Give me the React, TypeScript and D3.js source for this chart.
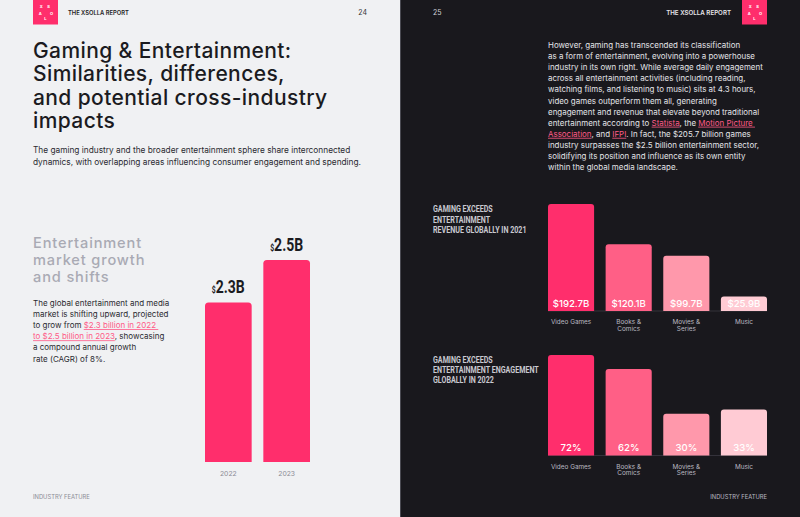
import React from 'react';
import * as d3 from 'd3';

// market size, billions USD
const marketYears = ['2022', '2023'];
const marketValues = [2.3, 2.5];

// entertainment categories shared by both right-hand charts
const categories = ['Video Games', 'Books & Comics', 'Movies & Series', 'Music'];
const categoryLines = [['Video Games'], ['Books &', 'Comics'], ['Movies &', 'Series'], ['Music']];
const revenue2021 = [192.7, 120.1, 99.7, 25.9];
const engagement2022 = [72, 62, 30, 33];
const barColors = ['#ff2e6c', '#ff5f86', '#ff98ab', '#ffcbd4'];

const PINK = '#ff2e6c';
const SANS = "Inter, 'Noto Sans', sans-serif";
const HEAVY = "Roboto, 'DejaVu Sans', sans-serif";

// bar with rounded top corners only
const topRounded = (x: number, y: number, w: number, h: number, r = 3) => {
  const p = d3.path();
  p.moveTo(x, y + h);
  p.lineTo(x, y + r);
  p.quadraticCurveTo(x, y, x + r, y);
  p.lineTo(x + w - r, y);
  p.quadraticCurveTo(x + w, y, x + w, y + r);
  p.lineTo(x + w, y + h);
  p.closePath();
  return p.toString();
};

const Logo: React.FC<{ x: number }> = ({ x }) => (
  <g transform={`translate(${x},0)`}>
    <rect width={25} height={24.5} fill={PINK} />
    <g fill="#fff" fontFamily={SANS} fontSize={4} fontWeight={700} textAnchor="middle">
      <text x={8.3} y={7.6}>X</text>
      <text x={15.5} y={7.6}>S</text>
      <text x={7.3} y={14.8}>A</text>
      <text x={18.5} y={14.8}>O</text>
      <text x={12.4} y={20}>L</text>
    </g>
  </g>
);

type Seg = { t: string; link?: boolean };

const Paragraph: React.FC<{ x: number; y: number; lh: number; lines: Seg[][]; color: string; size: number }> = ({
  x, y, lh, lines, color, size,
}) => (
  <text x={x} y={y} fontFamily={SANS} fontSize={size} fill={color}>
    {lines.map((segs, i) => (
      <tspan key={i} x={x} y={y + i * lh}>
        {segs.map((s, j) =>
          s.link ? (
            <tspan key={j} fill="#ff5a87" textDecoration="underline">{s.t}</tspan>
          ) : (
            <tspan key={j}>{s.t}</tspan>
          ),
        )}
      </tspan>
    ))}
  </text>
);

const leftIntro: Seg[][] = [
  [{ t: 'The gaming industry and the broader entertainment sphere share interconnected' }],
  [{ t: 'dynamics, with overlapping areas influencing consumer engagement and spending.' }],
];

const leftBody: Seg[][] = [
  [{ t: 'The global entertainment and media' }],
  [{ t: 'market is shifting upward, projected' }],
  [{ t: 'to grow from ' }, { t: '$2.3 billion in 2022 ', link: true }],
  [{ t: 'to $2.5 billion in 2023', link: true }, { t: ', showcasing' }],
  [{ t: 'a compound annual growth' }],
  [{ t: 'rate (CAGR) of 8%.' }],
];

const rightBody: Seg[][] = [
  [{ t: 'However, gaming has transcended its classification' }],
  [{ t: 'as a form of entertainment, evolving into a powerhouse' }],
  [{ t: 'industry in its own right. While average daily engagement' }],
  [{ t: 'across all entertainment activities (including reading,' }],
  [{ t: 'watching films, and listening to music) sits at 4.3 hours,' }],
  [{ t: 'video games outperform them all, generating' }],
  [{ t: 'engagement and revenue that elevate beyond traditional' }],
  [{ t: 'entertainment according to ' }, { t: 'Statista', link: true }, { t: ', the ' }, { t: 'Motion Picture ', link: true }],
  [{ t: 'Association', link: true }, { t: ', and ' }, { t: 'IFPI', link: true }, { t: '. In fact, the $205.7 billion games' }],
  [{ t: 'industry surpasses the $2.5 billion entertainment sector,' }],
  [{ t: 'solidifying its position and influence as its own entity' }],
  [{ t: 'within the global media landscape.' }],
];

const CategoryChart: React.FC<{
  values: number[];
  bottom: number;
  top: number;
  title: string[];
  titleY: number;
  fmt: (v: number) => string;
}> = ({ values, bottom, top, title, titleY, fmt }) => {
  const x = d3.scaleBand<string>().domain(categories).range([548, 767]).paddingInner(0.2);
  const y = d3.scaleLinear().domain([0, d3.max(values)!]).range([bottom, top]);
  return (
    <g>
      {/* narrow heading: squeeze a bold face horizontally */}
      <g transform="translate(433,0) scale(0.72,1)">
        <text fontFamily={HEAVY} fontSize={9.9} fontWeight={700} fill="#c9c9d1">
          {title.map((t, i) => (
            <tspan key={i} x={0} y={titleY + i * 10.2}>{t}</tspan>
          ))}
        </text>
      </g>
      <line x1={548} x2={767} y1={bottom} y2={bottom} stroke="#3b3a42" strokeWidth={0.8} />
      {values.map((v, i) => {
        const c = categories[i];
        const bx = x(c)!;
        const bw = x.bandwidth();
        return (
          <g key={c}>
            <path d={topRounded(bx, y(v), bw, bottom - y(v))} fill={barColors[i]} />
            <text
              x={bx + bw / 2}
              y={bottom - 4.5}
              textAnchor="middle"
              fontFamily={SANS}
              fontSize={9.6}
              fontWeight={500}
              fill="#fff"
            >
              {fmt(v)}
            </text>
            <text textAnchor="middle" fontFamily={SANS} fontSize={6.4} fill="#b9b9c2">
              {categoryLines[i].map((l, k) => (
                <tspan key={k} x={bx + bw / 2} y={bottom + 13} dy={k * 6.8}>{l}</tspan>
              ))}
            </text>
          </g>
        );
      })}
    </g>
  );
};

const App: React.FC = () => {
  const mx = d3.scaleBand<string>().domain(marketYears).range([205, 310]).paddingInner(0.2);
  const my = d3.scaleLinear().domain([1.55, 2.5]).range([462, 260]);

  return (
    <svg width={800} height={517} style={{ position: 'fixed', left: 0, top: 0 }}>
      {/* left page */}
      <rect x={0} y={0} width={400} height={517} fill="#f0f1f3" />
      <Logo x={33} />
      <text x={68} y={15} fontFamily={SANS} fontSize={5.8} fontWeight={600} fill="#222">THE XSOLLA REPORT</text>
      <text x={367} y={15} textAnchor="end" fontFamily={SANS} fontSize={7} fill="#333">24</text>

      <text fontFamily={SANS} fontSize={21} fontWeight={500} fill="#1b1b1f" letterSpacing={0.4}>
        {['Gaming & Entertainment:', 'Similarities, differences,', 'and potential cross-industry', 'impacts'].map(
          (l, i) => (
            <tspan key={i} x={33} y={58 + i * 23.3}>{l}</tspan>
          ),
        )}
      </text>
      <Paragraph x={33} y={153} lh={12} lines={leftIntro} color="#2a2a30" size={8.3} />

      <text fontFamily={SANS} fontSize={14.6} fontWeight={500} fill="#a9aab4" letterSpacing={0.85}>
        {['Entertainment', 'market growth', 'and shifts'].map((l, i) => (
          <tspan key={i} x={33} y={248 + i * 16.9}>{l}</tspan>
        ))}
      </text>
      <Paragraph x={33} y={306} lh={11.1} lines={leftBody} color="#2a2a30" size={8} />

      {marketValues.map((v, i) => {
        const yr = marketYears[i];
        const bx = mx(yr)!;
        const bw = mx.bandwidth();
        return (
          <g key={yr}>
            <path d={topRounded(bx, my(v), bw, 462 - my(v), 3.5)} fill={PINK} />
            <g transform={`translate(${bx + bw / 2},${my(v) - 9.5}) scale(0.8,1)`}>
              <text textAnchor="middle" fontFamily={HEAVY} fontWeight={700} fill="#1b1b1f">
                <tspan fontSize={8.5}>$</tspan>
                <tspan fontSize={17.5}>{`${v.toFixed(1)}B`}</tspan>
              </text>
            </g>
            <text x={bx + bw / 2} y={476} textAnchor="middle" fontFamily={SANS} fontSize={6.8} fill="#8c8c95">
              {yr}
            </text>
          </g>
        );
      })}
      <text x={33} y={499} fontFamily={SANS} fontSize={5.8} fill="#8c8c95">INDUSTRY FEATURE</text>

      {/* right page */}
      <rect x={400} y={0} width={400} height={517} fill="#19181d" />
      <line x1={400.5} x2={400.5} y1={0} y2={517} stroke="#4a4a52" strokeWidth={1} />
      <text x={433} y={15} fontFamily={SANS} fontSize={7} fill="#d0d0d6">25</text>
      <text x={731} y={15} textAnchor="end" fontFamily={SANS} fontSize={6.2} fontWeight={600} fill="#e6e6ea">
        THE XSOLLA REPORT
      </text>
      <Logo x={742} />

      <Paragraph x={548} y={48} lh={11.1} lines={rightBody} color="#e4e4e8" size={7.95} />

      <CategoryChart
        values={revenue2021}
        bottom={311}
        top={204}
        title={['GAMING EXCEEDS', 'ENTERTAINMENT', 'REVENUE GLOBALLY IN 2021']}
        titleY={212.5}
        fmt={(v) => `$${v.toFixed(1)}B`}
      />
      <CategoryChart
        values={engagement2022}
        bottom={455.5}
        top={355}
        title={['GAMING EXCEEDS', 'ENTERTAINMENT ENGAGEMENT', 'GLOBALLY IN 2022']}
        titleY={363}
        fmt={(v) => `${v}%`}
      />
      <text x={767} y={499} textAnchor="end" fontFamily={SANS} fontSize={5.8} fill="#b9b9c2">INDUSTRY FEATURE</text>
    </svg>
  );
};

export default App;
